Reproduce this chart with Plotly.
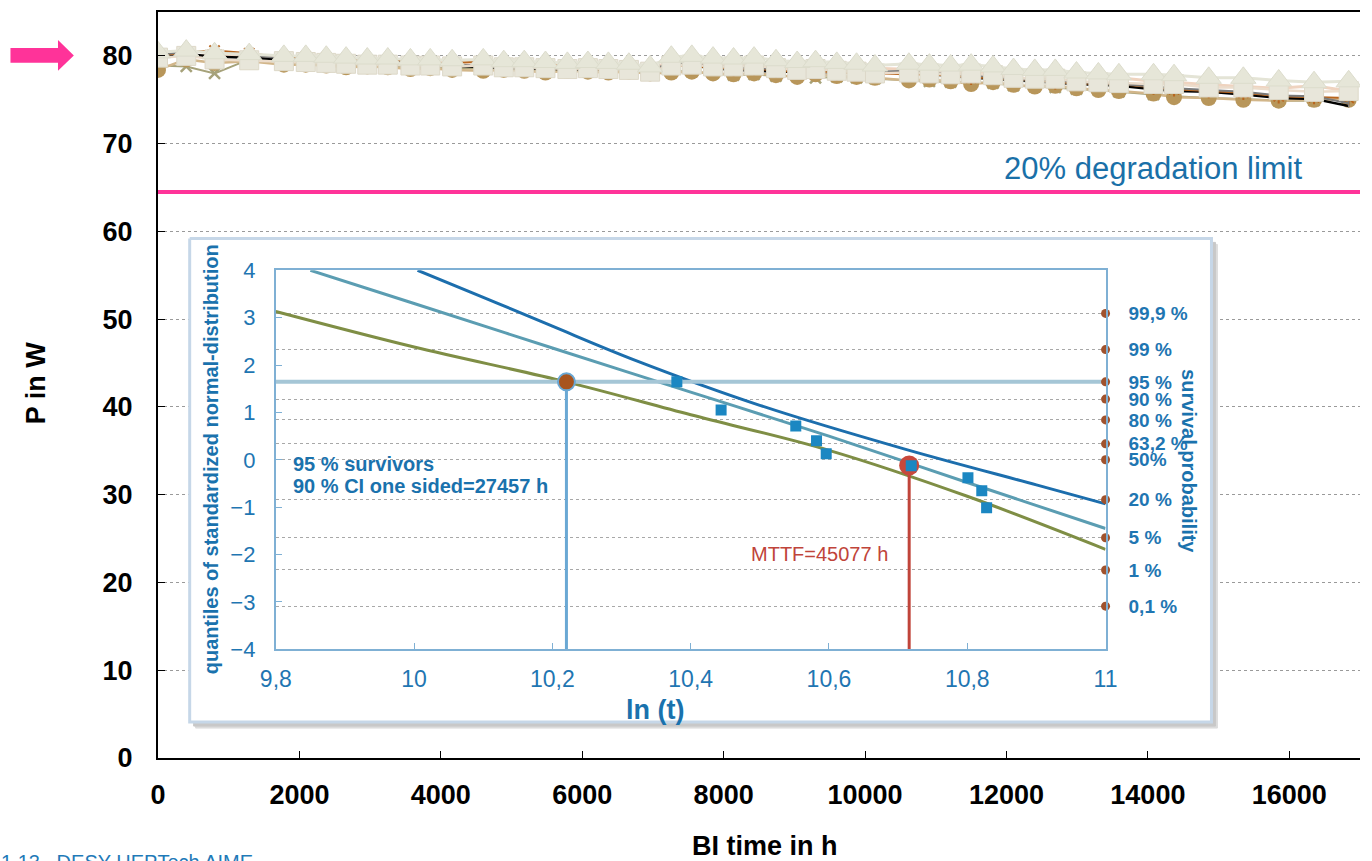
import plotly.graph_objects as go

# ---------------- data ----------------
t_hours = [0, 400, 800, 1290, 1780, 2090, 2380, 2660, 2960, 3250, 3570, 3850, 4160, 4600, 4890,
           5180, 5480, 5790, 6080, 6370, 6660, 6960, 7260, 7550, 7850, 8140, 8430, 8740, 9040, 9300,
           9600, 9880, 10140, 10620, 10910, 11210, 11500, 11810, 12100, 12400, 12690, 12990, 13300,
           13590, 14080, 14370, 14860, 15350, 15850, 16350, 16840]

p_tri = [80.4, 80.6, 80.3, 80.2, 80.0, 80.0, 79.9, 79.8, 79.7, 79.7,
         79.6, 79.6, 79.5, 79.6, 79.4, 79.4, 79.3, 79.2, 79.3, 79.2,
         79.1, 78.8, 79.9, 80.0, 79.8, 79.7, 79.8, 79.5, 79.3, 79.4,
         79.2, 79.1, 78.9, 79.1, 79.0, 78.9, 79.0, 78.8, 78.5, 78.4,
         78.4, 78.1, 78.0, 77.9, 77.9, 77.8, 77.5, 77.5, 77.2, 77.0,
         77.1]
p_sq = [79.8, 80.0, 79.6, 79.5, 79.4, 79.3, 79.2, 79.1, 79.0, 79.0,
        78.9, 78.9, 78.8, 78.9, 78.7, 78.7, 78.6, 78.5, 78.6, 78.5,
        78.4, 78.2, 78.9, 79.0, 78.8, 78.8, 78.9, 78.6, 78.4, 78.5,
        78.3, 78.2, 78.0, 78.1, 78.0, 77.9, 78.0, 77.8, 77.5, 77.4,
        77.4, 77.1, 77.0, 76.9, 76.8, 76.8, 76.4, 76.4, 76.1, 75.9,
        76.0]
p_circ = [78.4, 79.6, 79.2, 79.4, 79.0, 79.0, 78.9, 78.7, 78.8, 78.7,
          78.5, 78.6, 78.4, 78.3, 78.4, 78.3, 78.1, 78.3, 78.2, 78.1,
          78.2, 78.0, 78.1, 78.2, 78.0, 77.9, 78.0, 77.8, 77.6, 77.9,
          77.7, 77.6, 77.5, 77.2, 77.3, 77.1, 76.8, 77.0, 76.7, 76.5,
          76.6, 76.3, 76.1, 76.0, 75.7, 75.3, 75.2, 75.0, 74.9, 75.0,
          75.0]
p_black = [79.8, 80.2, 79.9, 79.8, 79.6, 79.4, 79.3, 79.2, 79.1, 79.1,
           79.0, 79.0, 78.9, 78.7, 78.6, 78.6, 78.5, 78.5, 78.4, 78.6,
           78.4, 78.2, 79.1, 78.9, 78.6, 78.4, 78.3, 78.2, 78.2, 78.1,
           78.2, 78.0, 78.1, 78.1, 77.9, 77.7, 77.5, 77.4, 77.2, 77.1,
           76.9, 76.8, 76.7, 76.6, 76.2, 76.0, 75.9, 75.6, 75.2, 75.1,
           74.3]
p_gray = [80.1, 80.5, 80.4, 80.1, 79.7, 79.6, 79.5, 79.4, 79.3, 79.3,
          79.2, 79.1, 79.0, 78.9, 78.8, 78.8, 78.8, 78.7, 78.8, 78.9,
          78.6, 78.4, 79.2, 79.1, 78.9, 78.7, 78.6, 78.5, 78.6, 78.4,
          78.4, 78.3, 78.2, 78.3, 78.1, 78.0, 77.8, 77.6, 77.4, 77.3,
          77.2, 77.0, 76.9, 76.8, 76.5, 76.3, 76.1, 75.9, 75.5, 75.4,
          74.6]
p_orange = [80.0, 80.4, 80.6, 80.3, 79.8, 79.9, 79.8, 79.5, 79.5, 79.6,
            79.3, 79.2, 79.2, 79.4, 79.0, 78.9, 79.0, 78.8, 78.3, 78.6,
            78.7, 78.5, 79.0, 78.8, 78.7, 78.5, 78.6, 78.3, 78.2, 78.3,
            78.0, 78.1, 78.0, 77.9, 77.8, 77.8, 77.5, 77.5, 77.3, 77.3,
            77.0, 76.9, 76.8, 76.8, 76.4, 76.2, 76.0, 75.8, 75.4, 75.3,
            75.2]
p_olive = [78.9, 78.8, 78.0, 79.6, 79.3, 79.2, 79.0, 78.9, 78.9, 78.8,
           78.7, 78.7, 78.6, 78.6, 78.5, 78.4, 78.3, 78.4, 78.2, 78.3,
           78.2, 78.1, 78.3, 78.2, 78.0, 77.8, 77.9, 77.7, 77.7, 77.5,
           77.6, 77.5, 77.4, 77.2, 77.1, 77.0, 77.0, 76.9, 76.6, 76.5,
           76.4, 76.2, 76.1, 75.9, 75.6, 75.4, 75.2, 75.1, 74.9, 74.9,
           75.1]
p_peach = [80.3, 80.1, 80.0, 79.9, 79.8, 79.7, 79.6, 79.6, 79.5, 79.5,
           79.4, 79.3, 79.3, 79.2, 79.1, 79.0, 79.0, 78.9, 78.9, 78.8,
           78.9, 78.6, 79.3, 79.3, 79.2, 79.1, 79.0, 78.9, 78.8, 78.8,
           78.7, 78.6, 78.6, 78.5, 78.4, 78.3, 78.2, 78.1, 78.0, 77.9,
           77.8, 77.6, 77.6, 77.5, 77.1, 77.0, 76.7, 76.5, 76.3, 76.6,
           76.0]
degradation_limit = 64.5

x_ticks = [0, 2000, 4000, 6000, 8000, 10000, 12000, 14000, 16000]
x_tick_text = ["0", "2000", "4000", "6000", "8000", "10000", "12000", "14000", "16000"]
y_ticks = [0, 10, 20, 30, 40, 50, 60, 70, 80]

# inset (probability plot)
olive_x = [9.8, 10.0, 10.22, 10.4, 10.6, 10.8, 11.0]
olive_z = [3.13, 2.38, 1.645, 0.95, 0.2, -0.77, -1.89]
teal_x = [9.85, 10.0, 10.2, 10.4, 10.6, 10.8, 11.0]
teal_z = [4.0, 3.3, 2.36, 1.43, 0.5, -0.48, -1.45]
blue_x = [10.005, 10.1, 10.2, 10.32, 10.5, 10.711, 10.9, 11.0]
blue_z = [4.0, 3.43, 2.82, 2.1, 1.15, 0.22, -0.53, -0.93]
obs_x = [10.38, 10.444, 10.552, 10.582, 10.596, 10.719, 10.801, 10.821, 10.828]
obs_z = [1.648, 1.053, 0.716, 0.40, 0.126, -0.126, -0.379, -0.653, -1.01]
z95 = 1.645
ln_ci = 10.2203      # ln(27457)
ln_mttf = 10.716     # ln(45077)
z_mttf = -0.12
prob_z = [3.090, 2.326, 1.645, 1.282, 0.842, 0.337, 0.0, -0.842, -1.645, -2.326, -3.090]
prob_lbl = ["99,9 %", "99 %", "95 %", "90 %", "80 %", "63,2 %", "50%", "20 %", "5 %", "1 %", "0,1 %"]
inset_xt = [9.8, 10.0, 10.2, 10.4, 10.6, 10.8, 11.0]
inset_xl = ["9,8", "10", "10,2", "10,4", "10,6", "10,8", "11"]
inset_yt = [-4, -3, -2, -1, 0, 1, 2, 3, 4]

# ---------------- layout helpers (pixel -> paper / data) ----------------
W, H = 1372, 861
ML, MR, MT, MB = 158, 0, 10, 103
PW, PH = W - ML - MR, H - MT - MB
XMAX, YMAX = 17000, 85


def px(xp):
    return (xp - ML) / PW


def py(yp):
    return (H - MB - yp) / PH


def dx(xp):
    return (xp - ML) / PW * XMAX


def dy(yp):
    return (H - MB - yp) / PH * YMAX


FONT = "Liberation Sans, Arial, sans-serif"
BLUE_TXT = "#1f76b2"
BLUE_B = "#1a72ad"

fig = go.Figure()

# inset frame (filled shapes on main axes so they hide the main gridlines)
bx0, bx1, by0, by1 = 190, 1222, 237, 722
for off, col in [(6, "#dcdcdc"), (4, "#c8c8c8")]:
    fig.add_trace(go.Scatter(
        x=[dx(bx0 + off), dx(bx1 + off), dx(bx1 + off), dx(bx0 + off), dx(bx0 + off)],
        y=[dy(by0 + off), dy(by0 + off), dy(by1 + off), dy(by1 + off), dy(by0 + off)],
        mode="lines", fill="toself", fillcolor=col, line=dict(color=col, width=1),
        hoverinfo="skip"))
fig.add_trace(go.Scatter(
    x=[dx(bx0), dx(bx1), dx(bx1), dx(bx0), dx(bx0)],
    y=[dy(by0), dy(by0), dy(by1), dy(by1), dy(by0)],
    mode="lines", fill="toself", fillcolor="white", line=dict(color="#c6d7e8", width=3),
    hoverinfo="skip"))

# degradation limit
fig.add_trace(go.Scatter(x=[0, XMAX], y=[degradation_limit, degradation_limit], mode="lines",
                         line=dict(color="#ff3399", width=4), hoverinfo="skip", cliponaxis=False))

# main series
fig.add_trace(go.Scatter(x=t_hours, y=p_peach, mode="lines", line=dict(color="#efd3bf", width=3)))
fig.add_trace(go.Scatter(x=t_hours, y=p_olive, mode="lines+markers",
                         line=dict(color="#a6a27a", width=2),
                         marker=dict(symbol="x-thin-open", size=11, line=dict(color="#9a9868", width=2.5))))
fig.add_trace(go.Scatter(x=t_hours, y=p_circ, mode="lines+markers",
                         line=dict(color="#d2b68a", width=2.5),
                         marker=dict(symbol="circle", size=16, color="#b8965a")))
fig.add_trace(go.Scatter(x=t_hours, y=p_black, mode="lines", line=dict(color="#000000", width=2.5)))
fig.add_trace(go.Scatter(x=t_hours, y=p_orange, mode="lines+markers",
                         line=dict(color="#b8651e", width=2),
                         marker=dict(symbol="asterisk-open", size=12, line=dict(color="#b0601a", width=2))))
fig.add_trace(go.Scatter(x=t_hours, y=p_gray, mode="lines+markers",
                         line=dict(color="#7a7a7a", width=2),
                         marker=dict(symbol="line-ns-open", size=6, line=dict(color="#7a7a7a", width=1.5))))
fig.add_trace(go.Scatter(x=t_hours, y=p_sq, mode="lines+markers",
                         line=dict(color="#ecdccb", width=2.5),
                         marker=dict(symbol="square", size=19, color="#e8e6da",
                                     line=dict(color="#ddd8c8", width=1))))
fig.add_trace(go.Scatter(x=t_hours, y=p_tri, mode="lines+markers",
                         line=dict(color="#e4e4d6", width=3),
                         marker=dict(symbol="triangle-up", size=22, color="#e6e6d8",
                                     line=dict(color="#dcdccc", width=1))))

# ---------------- inset traces ----------------
fig.add_trace(go.Scatter(x=olive_x, y=olive_z, xaxis="x2", yaxis="y2", mode="lines",
                         line=dict(color="#7f8e45", width=3, shape="spline")))
fig.add_trace(go.Scatter(x=teal_x, y=teal_z, xaxis="x2", yaxis="y2", mode="lines",
                         line=dict(color="#5b9db2", width=3, shape="spline")))
fig.add_trace(go.Scatter(x=blue_x, y=blue_z, xaxis="x2", yaxis="y2", mode="lines",
                         line=dict(color="#1c6ead", width=3, shape="spline")))
fig.add_trace(go.Scatter(x=[inset_xt[0], inset_xt[-1]], y=[z95, z95], xaxis="x2", yaxis="y2",
                         mode="lines", line=dict(color="#a5c6d6", width=4)))
fig.add_trace(go.Scatter(x=[ln_ci, ln_ci], y=[inset_yt[0], z95], xaxis="x2", yaxis="y2",
                         mode="lines", line=dict(color="#6aa8d4", width=3)))
fig.add_trace(go.Scatter(x=[ln_mttf, ln_mttf], y=[inset_yt[0], z_mttf], xaxis="x2", yaxis="y2",
                         mode="lines", line=dict(color="#c0443a", width=3)))
fig.add_trace(go.Scatter(x=[ln_mttf], y=[z_mttf], xaxis="x2", yaxis="y2", mode="markers",
                         marker=dict(symbol="circle", size=20, color="#c8483c")))
fig.add_trace(go.Scatter(x=obs_x, y=obs_z, xaxis="x2", yaxis="y2", mode="markers",
                         marker=dict(symbol="square", size=11, color="#1b87c2")))
fig.add_trace(go.Scatter(x=[ln_ci], y=[z95], xaxis="x2", yaxis="y2", mode="markers",
                         marker=dict(symbol="circle", size=17, color="#a8541e",
                                     line=dict(color="#6aa8d4", width=2))))
fig.add_trace(go.Scatter(x=[inset_xt[-1]] * len(prob_z), y=prob_z, xaxis="x2", yaxis="y2",
                         mode="markers", cliponaxis=False,
                         marker=dict(symbol="circle", size=9, color="#a0522d")))

# ---------------- layout ----------------
ax_inset_col = "#7fb0d4"
fig.update_layout(
    width=W, height=H,
    margin=dict(l=ML, r=MR, t=MT, b=MB, pad=0),
    paper_bgcolor="white", plot_bgcolor="white",
    showlegend=False, hovermode=False,
    font=dict(family=FONT, color="black"),
    xaxis=dict(range=[0, XMAX], tickvals=x_ticks, ticktext=x_tick_text, showgrid=False, zeroline=False,
               showline=True, linecolor="black", linewidth=2, mirror=True,
               ticks="inside", ticklen=7, tickcolor="black", tickwidth=1,
               tickfont=dict(family=FONT, size=27, color="black", weight="bold"),
               ticklabelstandoff=12),
    yaxis=dict(range=[0, YMAX], tickvals=y_ticks, showgrid=True, gridcolor="#9a9a9a",
               griddash="dot", gridwidth=1, zeroline=False,
               showline=True, linecolor="black", linewidth=2,
               ticks="inside", ticklen=7, tickcolor="black",
               tickfont=dict(family=FONT, size=27, color="black", weight="bold"),
               ticklabelstandoff=18),
    xaxis2=dict(domain=[px(277), px(1115)], anchor="y2", range=[inset_xt[0], inset_xt[-1]],
                tickvals=inset_xt, ticktext=inset_xl, showgrid=False, zeroline=False,
                showline=True, linecolor=ax_inset_col, linewidth=2, mirror=True,
                ticks="inside", ticklen=6, tickcolor=ax_inset_col,
                tickfont=dict(family=FONT, size=23, color=BLUE_TXT), ticklabelstandoff=8),
    yaxis2=dict(domain=[py(649), py(269)], anchor="x2", range=[inset_yt[0], inset_yt[-1]],
                tickvals=inset_yt, showgrid=False, zeroline=False,
                showline=True, linecolor=ax_inset_col, linewidth=2, mirror=True,
                ticks="inside", ticklen=6, tickcolor=ax_inset_col,
                tickfont=dict(family=FONT, size=22, color=BLUE_TXT), ticklabelstandoff=14),
    yaxis3=dict(overlaying="y2", anchor="x2", side="right", range=[inset_yt[0], inset_yt[-1]],
                tickvals=prob_z, ticktext=prob_lbl, showgrid=True, gridcolor="#a8a8a8",
                griddash="dot", gridwidth=1, zeroline=False, showline=False, ticks="",
                tickfont=dict(family=FONT, size=19, color=BLUE_TXT, weight="bold"),
                ticklabelstandoff=22),
)

# dummy trace to activate yaxis3
fig.add_trace(go.Scatter(x=[inset_xt[0]], y=[inset_yt[0]], xaxis="x2", yaxis="y3",
                         mode="markers", marker=dict(opacity=0), hoverinfo="skip"))

# pink arrow
arrow_pts = [(9, 46), (57, 46), (57, 38), (73, 53.5), (57, 69), (57, 61), (9, 61)]
path = "M " + " L ".join(f"{px(a):.5f},{py(b):.5f}" for a, b in arrow_pts) + " Z"
fig.add_shape(type="path", xref="paper", yref="paper", path=path,
              fillcolor="#ff3399", line=dict(width=0), layer="above")

ann = []


def A(text, xp, yp, size, color, bold=False, angle=0, xanchor="center", yanchor="middle", align="center"):
    ann.append(dict(text=text, x=px(xp), y=py(yp), xref="paper", yref="paper", showarrow=False,
                    textangle=angle, xanchor=xanchor, yanchor=yanchor, align=align,
                    font=dict(family=FONT, size=size, color=color, weight="bold" if bold else "normal")))


A("20% degradation limit", 1163, 167, 31, "#1a70a8")
A("P in W", 35, 382, 27, "black", bold=True, angle=-90)
A("BI time in h", 771, 846, 27, "black", bold=True)
A("ln (t)", 660, 710, 27, BLUE_B, bold=True)
A("quantiles of standardized normal-distribution", 211, 458, 20, BLUE_B, bold=True, angle=-90)
A("survival probability", 1200, 460, 20, BLUE_B, bold=True, angle=90)
A("95 % survivors", 292, 463, 20, BLUE_B, bold=True, xanchor="left")
A("90 % CI one sided=27457 h", 292, 485, 20, BLUE_B, bold=True, xanchor="left")
A("MTTF=45077 h", 826, 553, 20, "#c0443a")
A("1.13\u00a0\u00a0\u00a0DESY HEPTech AIME", -3, 849, 20, "#1f7ab8", xanchor="left", yanchor="top", align="left")
fig.update_layout(annotations=ann)

fig.write_html("out.html")
